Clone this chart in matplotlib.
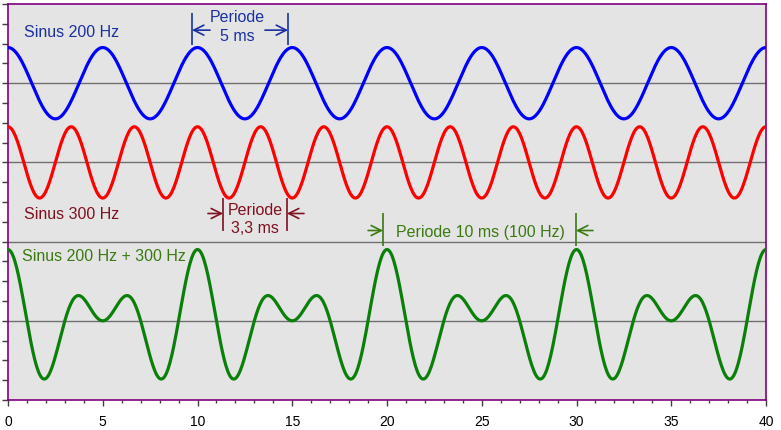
import numpy as np
import matplotlib
matplotlib.use("Agg")
import matplotlib.pyplot as plt

# ---- data ----
time_range_ms = [0, 40]
freqs_hz = [200, 300]          # blue, red
amplitude = 1.8                # per sine, in y units
baselines = [16, 12, 4]        # blue, red, green (sum) centre lines
separators = [16, 12, 8, 4]    # thin gray horizontal lines
x_major = [0, 5, 10, 15, 20, 25, 30, 35, 40]
x_labels = ["0", "5", "10", "15", "20", "25", "30", "35", "40"]
curve_labels = ["Sinus 200 Hz", "Sinus 300 Hz", "Sinus 200 Hz + 300 Hz"]
period_labels = [("Periode", "5 ms"), ("Periode", "3,3 ms"), "Periode 10 ms (100 Hz)"]
period_marks_ms = [(9.71, 14.78), (11.35, 14.72), (19.79, 29.97)]

blue, red, green = "#0000FF", "#FF0000", "#0A800A"
blue_t, red_t, green_t = "#1A30A0", "#801020", "#3A7A10"

plt.rcParams["font.family"] = ["Liberation Sans", "DejaVu Sans"]

fig = plt.figure(figsize=(7.81, 4.31), dpi=100)
ax = fig.add_axes([8 / 781, 1 - 401 / 431, 758 / 781, 396 / 431])
ax.set_facecolor("#E4E4E4")

t = np.arange(time_range_ms[0], time_range_ms[1] + 0.001, 0.05)
s1 = amplitude * np.cos(2 * np.pi * freqs_hz[0] * t / 1000)
s2 = amplitude * np.cos(2 * np.pi * freqs_hz[1] * t / 1000)

for y in separators:
    ax.axhline(y, color="#707070", lw=1.0, zorder=1)

ax.plot(t, baselines[0] + s1, color=blue, lw=2.3, zorder=3)
ax.plot(t, baselines[1] + s2, color=red, lw=2.3, zorder=3)
ax.plot(t, baselines[2] + s1 + s2, color=green, lw=2.3, zorder=3)

ax.set_xlim(*time_range_ms)
ax.set_ylim(0, 20)

fs = 11.5
ax.text(0.84, 18.63, curve_labels[0], color=blue_t, fontsize=fs, ha="left", va="center")
ax.text(0.84, 9.42, curve_labels[1], color=red_t, fontsize=fs, ha="left", va="center")
ax.text(0.74, 7.29, curve_labels[2], color=green_t, fontsize=fs, ha="left", va="center")

def arrow(x0, x1, y, c):
    ax.annotate("", xy=(x1, y), xytext=(x0, y),
                arrowprops=dict(arrowstyle="->", color=c, lw=1.2,
                                shrinkA=0, shrinkB=0, mutation_scale=18), zorder=4)

# blue period
a, b = period_marks_ms[0]
ax.vlines([a, b], 17.92, 19.54, color=blue_t, lw=1.2, zorder=4)
arrow(10.66, a, 18.68, blue_t)
arrow(13.56, b, 18.68, blue_t)
ax.text(12.1, 19.39, period_labels[0][0], color=blue_t, fontsize=fs, ha="center", va="center")
ax.text(12.1, 18.43, period_labels[0][1], color=blue_t, fontsize=fs, ha="center", va="center")

# red period
a, b = period_marks_ms[1]
ax.vlines([a, b], 8.56, 10.18, color=red_t, lw=1.2, zorder=4)
arrow(10.55, a, 9.42, red_t)
arrow(15.62, b, 9.42, red_t)
ax.text(13.03, 9.62, period_labels[1][0], color=red_t, fontsize=fs, ha="center", va="center")
ax.text(13.03, 8.71, period_labels[1][1], color=red_t, fontsize=fs, ha="center", va="center")

# green period
a, b = period_marks_ms[2]
ax.vlines([a, b], 7.80, 9.42, color=green_t, lw=1.2, zorder=4)
arrow(19.0, a, 8.56, green_t)
arrow(30.87, b, 8.56, green_t)
ax.text(24.95, 8.51, period_labels[2], color=green_t, fontsize=fs, ha="center", va="center")

# ticks
ax.set_xticks(x_major)
ax.set_xticklabels(x_labels, fontsize=10)
ax.set_xticks(np.arange(0, 41, 1), minor=True)
ax.set_yticks(np.arange(0, 21, 1))
ax.set_yticklabels([])
ax.tick_params(axis="x", which="major", length=4, width=1, color="#404040", pad=6)
ax.tick_params(axis="x", which="minor", length=2.5, width=1, color="#404040")
ax.tick_params(axis="y", which="major", length=4, width=1, color="#404040")
for sp in ax.spines.values():
    sp.set_color("#800080")
    sp.set_linewidth(1.2)

fig.savefig("out.png", dpi=100, facecolor="white")
